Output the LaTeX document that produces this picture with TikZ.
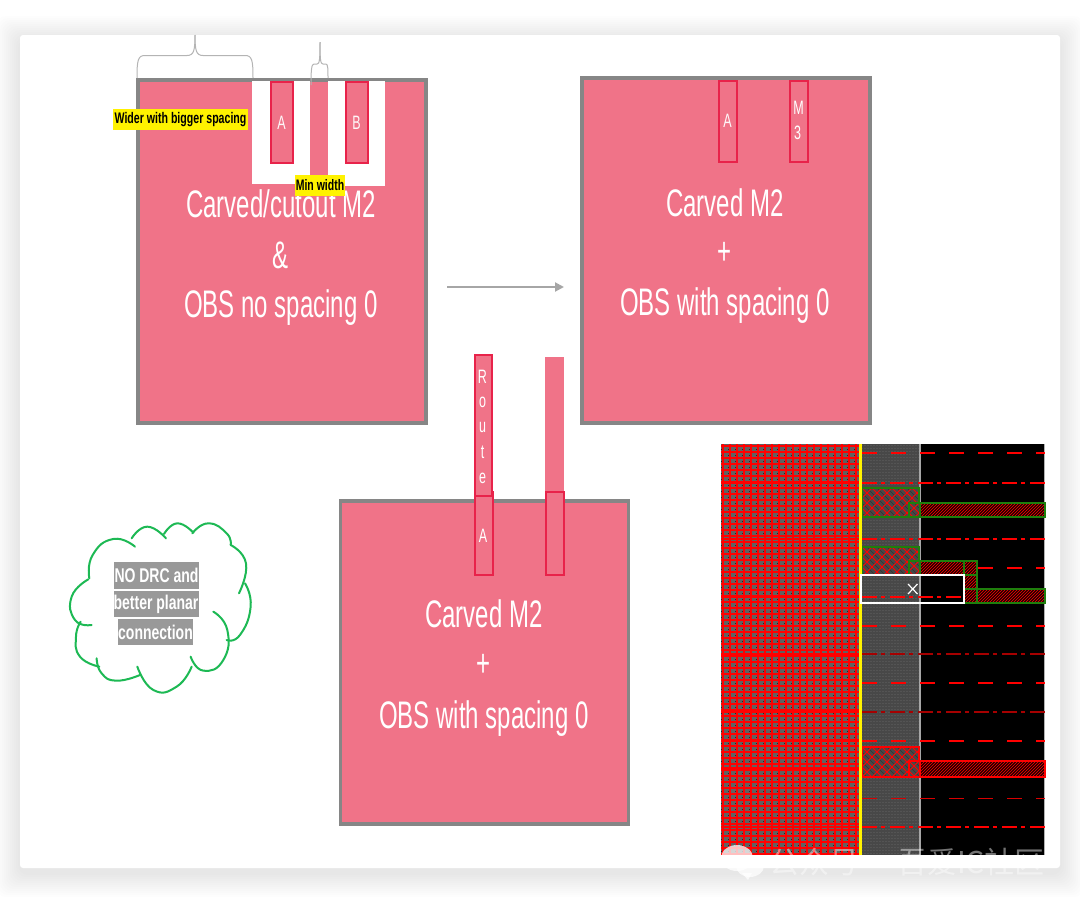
\documentclass[tikz,border=0pt]{standalone}
\usepackage{fontspec}
\usepackage{graphicx}
\setmainfont{Liberation Sans}
\newfontfamily\cjkfont{Noto Sans CJK SC}
\usetikzlibrary{arrows.meta}
\definecolor{panelpink}{HTML}{F07388}
\definecolor{panelgray}{HTML}{868686}
\definecolor{pinedge}{HTML}{E8234A}
\definecolor{bracegray}{HTML}{B4B4B4}
\definecolor{cloudgreen}{HTML}{1DB954}
\definecolor{tagray}{HTML}{999999}
\definecolor{layoutgreen}{HTML}{1F7F0C}
\definecolor{coregray}{HTML}{484848}
\newcommand{\bigtxt}[1]{\scalebox{1}[1.6]{\fontsize{24}{28}\selectfont #1}}
\newcommand{\pintxt}[1]{\scalebox{1}[1.55]{\fontsize{12.5}{14}\selectfont #1}}
\newcommand{\tagtxt}[2]{\raisebox{-1.5pt}{\scalebox{1}[1.45]{\fontsize{#1}{12}\selectfont\bfseries #2}}}
\newcommand{\cloudtxt}[1]{\scalebox{1}[1.42]{\fontsize{14}{16}\selectfont\bfseries #1}}
\newcommand{\crossbox}[5]{%
  \begin{scope}
    \clip (#1,#2) rectangle (#3,#4);
    \fill[coregray] (#1,#2) rectangle (#3,#4);
    \foreach \k in {-40,-30,...,70}{
      \draw[red,line width=.9pt] ({#1+\k},#2) -- ++(40,40);
      \draw[red,line width=.9pt] ({#1+\k},#2) -- ++(-40,40);
      \draw[black!80,line width=.5pt] ({#1+\k+5},#2) -- ++(40,40);
    }
  \end{scope}
  \draw[#5,line width=2pt] (#1,#2) rectangle (#3,#4);}
\newcommand{\hatchstrip}[5]{%
  \begin{scope}
    \clip (#1,#2) rectangle (#3,#4);
    \fill[black] (#1,#2) rectangle (#3,#4);
    \foreach \k in {-20,-17,...,140}{
      \draw[red!85!black,line width=1pt] ({#1+\k},#4) -- ++(20,-20);
    }
  \end{scope}
  \draw[#5,line width=2pt] (#1,#2) rectangle (#3,#4);}
\tikzset{
  panel/.style={rectangle,draw=panelgray,fill=panelpink,line width=3.6pt,inner sep=0pt},
  pinbox/.style={rectangle,draw=pinedge,fill=panelpink,line width=2pt,inner sep=0pt,text=white,text opacity=.95},
  plainpin/.style={rectangle,fill=panelpink,inner sep=0pt},
  cutbox/.style={rectangle,fill=white,inner sep=0pt},
  bigtext/.style={text=white,inner sep=0pt},
  pinlabel/.style={text=white,inner sep=0pt},
  yellowtag/.style={fill=yellow,text=black,inner sep=0pt},
  graytag/.style={fill=tagray,text=white,inner sep=0pt},
  bracket/.style={draw=bracegray,line width=1pt},
  cloudline/.style={draw=cloudgreen,line width=2pt,line cap=round},
  flow/.style={draw=black!35,line width=2pt,-{Triangle[length=9pt,width=9pt]}},
  dashrow/.style={red,line width=1.2pt,dash pattern=on 15pt off 14pt},
  dotrow/.style={red,line width=1.2pt,dash pattern=on 15pt off 4pt on 4pt off 5pt},
}
\begin{document}
\begin{tikzpicture}[x=1pt,y=-1pt]
\useasboundingbox (0,0) rectangle (1080,905);
\fill[white] (0,0) rectangle (1080,905);
% soft shadow of the card
\foreach \e in {24,22,...,2}{
  \fill[black,opacity=.008,rounded corners=10pt] ({20-\e},{35-\e+5}) rectangle ({1060+\e},{868+\e+5});
}
\fill[white,rounded corners=3pt] (20,35) rectangle (1060,868);

% --- panel 1
\node[panel,minimum width=288pt,minimum height=343pt] (p1) at (282,251.5) {};
\node[cutbox,minimum width=58pt,minimum height=103pt] (cutA) at (281,132.5) {};
\node[cutbox,minimum width=57pt,minimum height=105pt] (cutB) at (356.5,133.5) {};
\node[pinbox,minimum width=22pt,minimum height=81pt] (pinA) at (281.5,122.5) {\pintxt{A}};
\node[pinbox,minimum width=22pt,minimum height=81pt] (pinB) at (356.5,122.5) {\pintxt{B}};
\node[bigtext] (t11) at (281,204) {\bigtxt{Carved/cutout M2}};
\node[bigtext] (t12) at (281,255) {\bigtxt{\&}};
\node[bigtext] (t13) at (281,308) {\bigtxt{OBS no spacing 0}};
\node[yellowtag,minimum width=135pt,minimum height=21pt] (tagW) at (180.5,119.5) {\tagtxt{10.6}{Wider with bigger spacing}};
\node[yellowtag,minimum width=50pt,minimum height=21pt] (tagM) at (320,185.5) {\tagtxt{10.5}{Min width}};
% braces
\draw[bracket] (137,78) .. controls (137,60) and (138,55.5) .. (145,55.5)
   -- (187,55.5) .. controls (194,55.5) and (195,50) .. (195,35);
\draw[bracket] (195,35) .. controls (195,50) and (196,55.5) .. (203,55.5)
   -- (245,55.5) .. controls (252,55.5) and (253,60) .. (253,78);
\draw[bracket] (311,85) .. controls (311,70) and (311.5,64) .. (314,64)
   -- (317,64) .. controls (319.5,64) and (320,60) .. (320,42);
\draw[bracket] (320,42) .. controls (320,60) and (320.5,64) .. (323,64)
   -- (326,64) .. controls (328,64) and (328,70) .. (328,78);

% --- panel 2
\node[panel,minimum width=288pt,minimum height=345pt] (p2) at (726,250.5) {};
\node[pinbox,minimum width=18pt,minimum height=81pt] (pinA2) at (727.5,121) {\pintxt{A}};
\node[pinbox,minimum width=18pt,minimum height=81pt] (pinM) at (799,121) {};
\node[pinlabel] (lM) at (798.5,108) {\pintxt{M}};
\node[pinlabel] (l3) at (797.5,133) {\pintxt{3}};
\node[bigtext] (t21) at (725,203) {\bigtxt{Carved M2}};
\node[bigtext] (t22) at (725,253) {\bigtxt{+}};
\node[bigtext] (t23) at (725,306) {\bigtxt{OBS with spacing 0}};

% --- arrow
\coordinate (arrS) at (447,287);
\coordinate (arrE) at (564,287);
\draw[flow] (arrS) -- (arrE);

% --- panel 3
\node[panel,minimum width=288pt,minimum height=323pt] (p3) at (484.5,662.5) {};
\node[plainpin,minimum width=19pt,minimum height=136pt] (plain) at (554.5,425) {};
\node[pinbox,minimum width=18pt,minimum height=83pt] (pinA3) at (483.5,533.5) {};
\node[pinbox,minimum width=18pt,minimum height=83pt] (pinC) at (554.5,533.5) {};
\node[pinbox,minimum width=17pt,minimum height=141pt] (route) at (483,425) {};
\foreach \c/\yy/\nm in {R/377/a,o/402/b,u/427/c,t/452/d,e/478/e}{
  \node[pinlabel] (route\nm) at (482.5,\yy) {\pintxt{\c}};
}
\node[pinlabel] (lA3) at (483,536) {\pintxt{A}};
\node[bigtext] (t31) at (484,614) {\bigtxt{Carved M2}};
\node[bigtext] (t32) at (484,665) {\bigtxt{+}};
\node[bigtext] (t33) at (484,719) {\bigtxt{OBS with spacing 0}};

% --- cloud
\begin{scope}[shift={(60,510)},x=.3333pt,y=-.3333pt]
\draw[cloudline] plot[smooth,tension=.9] coordinates {(88,205)(98,135)(160,87)(225,110)};
\draw[cloudline] plot[smooth,tension=.9] coordinates {(215,85)(262,50)(318,85)};
\draw[cloudline] plot[smooth,tension=.9] coordinates {(312,72)(352,40)(400,68)};
\draw[cloudline] plot[smooth,tension=.9] coordinates {(397,70)(445,40)(500,70)(512,105)};
\draw[cloudline] plot[smooth,tension=.9] coordinates {(512,105)(558,160)(537,250)};
\draw[cloudline] plot[smooth,tension=.9] coordinates {(555,220)(572,290)(540,375)(500,390)};
\draw[cloudline] plot[smooth,tension=.9] coordinates {(460,305)(502,360)(490,450)(430,482)(392,440)};
\draw[cloudline] plot[smooth,tension=.9] coordinates {(395,470)(350,530)(280,540)(232,470)};
\draw[cloudline] plot[smooth,tension=.9] coordinates {(240,495)(170,512)(125,490)(110,445)};
\draw[cloudline] plot[smooth,tension=.9] coordinates {(118,470)(60,440)(48,380)(62,335)};
\draw[cloudline] plot[smooth,tension=.9] coordinates {(95,345)(45,330)(35,260)(85,208)};
\end{scope}
\node[graytag,minimum width=85pt,minimum height=26.5pt] (c1) at (156.5,575.5) {\cloudtxt{NO DRC and}};
\node[graytag,minimum width=85pt,minimum height=26.5pt] (c2) at (156,604) {\cloudtxt{better planar}};
\node[graytag,minimum width=72pt,minimum height=26.5pt] (c3) at (155.5,632) {\cloudtxt{connection}};

% --- layout view
\fill[black!62] (721,444) rectangle (860,855);
\begin{scope}
\clip (721,444) rectangle (860,855);
\foreach \yy in {449,455,...,856}{
  \draw[black!85,line width=.6pt,dash pattern=on 2.5pt off 4.5pt] (721,\yy) -- (860,\yy);
}
\foreach \xx in {723,730,...,860}{
  \draw[red,line width=1.2pt] (\xx,444) -- (\xx,855);
}
\foreach \yy in {446,452,...,856}{
  \draw[red,line width=2pt] (721,\yy) -- (860,\yy);
}
\foreach \yy in {483,539,597,654,712,741,768,827}{
  \draw[red,line width=1.2pt] (721,\yy) -- (860,\yy);
}
\end{scope}
\fill[coregray] (860,444) rectangle (920,855);
\foreach \yy in {445,448,...,855}{
  \draw[white!33!black,line width=.7pt,dash pattern=on 1.5pt off 1.5pt] (861,\yy) -- (919,\yy);
}
\fill[black] (921,444) rectangle (1045,855);
\draw[black!35,line width=2pt] (920,444) -- (920,855);
\draw[black!30,line width=.8pt] (1044.6,444) -- (1044.6,855);
\foreach \yy in {453,511,568,626,683,741}{
  \draw[dashrow] (862,\yy) -- (1045,\yy);
}
\draw[dashrow,line width=.8pt,red!85!black] (862,798) -- (1045,798);
\foreach \yy in {483,539,597,827}{
  \draw[dotrow] (862,\yy) -- (1045,\yy);
}
\foreach \yy in {654,712}{
  \draw[dotrow,red!65!black] (862,\yy) -- (1045,\yy);
}
% hatched wires
\crossbox{862}{488}{919}{517}{layoutgreen}
\hatchstrip{920}{503}{1045}{517}{layoutgreen}
\crossbox{909}{503}{920}{517}{layoutgreen}
\crossbox{862}{547}{919}{575}{layoutgreen}
\hatchstrip{920}{561}{977}{575}{layoutgreen}
\hatchstrip{964}{575}{977}{589}{layoutgreen}
\hatchstrip{964}{589}{1045}{603}{layoutgreen}
\draw[layoutgreen,line width=2pt] (964,561) -- (964,575);
\draw[layoutgreen,line width=2pt] (977,589) -- (977,603);
\crossbox{909}{561}{920}{575}{layoutgreen}
\crossbox{862}{747}{919}{777}{red}
\hatchstrip{920}{761}{1045}{777}{red}
\crossbox{909}{761}{920}{777}{red}
\draw[yellow,line width=2.2pt] (860.5,444) -- (860.5,855);
% selected cell
\draw[white,line width=2pt] (861,575) rectangle (964,603);
\draw[white,line width=1.2pt] (908,584) -- (917.5,594) (917.5,584) -- (908,594);

% --- watermark
\fill[white,opacity=.75] (737,858) ellipse (16pt and 13pt);
\fill[white,opacity=.75] (750,866) ellipse (14pt and 11pt);
\fill[white,opacity=.75] (742,873) -- (752,873) -- (748,880) -- cycle;
\node[text=white,text opacity=.45,inner sep=0pt,font=\cjkfont\fontsize{30}{32}\selectfont] (wm1) at (814,862) {公众号};
\node[text=white,text opacity=.45,inner sep=0pt,font=\cjkfont\fontsize{30}{32}\selectfont] (wm2) at (971,862) {吾爱IC社区};
\fill[white,opacity=.5] (876,862) circle (2pt);
\end{tikzpicture}
\end{document}
